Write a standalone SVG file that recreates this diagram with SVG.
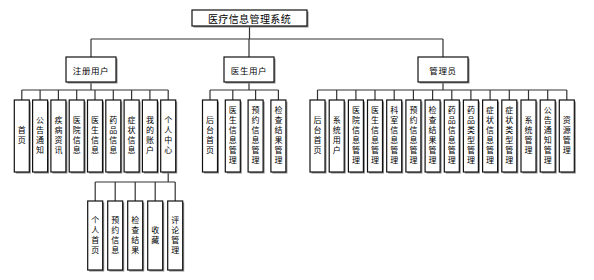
<svg xmlns="http://www.w3.org/2000/svg" width="594" height="280" viewBox="0 0 594 280">
<defs>
<style>
.bg{fill:#ffffff}
.sh{fill:#8a8a8a}
.bx{fill:#ffffff;stroke:#111;stroke-width:1.2}
.ln{stroke:#333;stroke-width:1.2;fill:none}
.t{font-family:"Noto Sans CJK SC","Noto Sans",sans-serif;fill:#000;text-anchor:middle}
.h{font-size:10px;letter-spacing:0.4px;dominant-baseline:central}
.m{font-size:8.5px;letter-spacing:0.6px;dominant-baseline:central}
.v{font-size:8px;writing-mode:vertical-rl;letter-spacing:2px}
</style>
</defs>
<rect class="bg" x="0" y="0" width="594" height="280"/>
<g id="connectors">
<path class="ln" d="M249.5 26V39M91 39H443M91 39V57M249 39V57M443 39V57"/>
<path class="ln" d="M91 82V90M21.8 90H168.2M21.8 90V100M40.1 90V100M58.4 90V100M76.7 90V100M95 90V100M113.3 90V100M131.6 90V100M149.9 90V100M168.2 90V100"/>
<path class="ln" d="M249 82V90M210 90H278.4M210 90V100M232.8 90V100M255.6 90V100M278.4 90V100"/>
<path class="ln" d="M443 82V90M317.5 90H566.8M317.5 90V100M336.7 90V100M355.9 90V100M375 90V100M394.2 90V100M413.4 90V100M432.6 90V100M451.8 90V100M470.9 90V100M490.1 90V100M509.3 90V100M528.5 90V100M547.7 90V100M566.8 90V100"/>
<path class="ln" d="M168.2 172V182M95.2 182H175.2M95.2 182V201M115.2 182V201M135.2 182V201M155.2 182V201M175.2 182V201"/>
</g>
<g id="root"><rect class="sh" x="193.5" y="11.5" width="115" height="16"/><rect class="bx" x="192" y="10" width="115" height="16"/><text class="t h" x="249.5" y="18.5">医疗信息管理系统</text></g>
<g id="n-reg"><rect class="sh" x="67.5" y="58.5" width="50" height="25"/><rect class="bx" x="66" y="57" width="50" height="25"/><text class="t m" x="91" y="69.5">注册用户</text></g>
<g id="n-doc"><rect class="sh" x="225.5" y="58.5" width="50" height="25"/><rect class="bx" x="224" y="57" width="50" height="25"/><text class="t m" x="249" y="69.5">医生用户</text></g>
<g id="n-adm"><rect class="sh" x="419.5" y="58.5" width="50" height="25"/><rect class="bx" x="418" y="57" width="50" height="25"/><text class="t m" x="443" y="69.5">管理员</text></g>

<g id="r1"><rect class="sh" x="15.8" y="101.5" width="15" height="72"/><rect class="bx" x="14.3" y="100" width="15" height="72"/><text class="t v" x="21.8" y="136">首页</text></g>
<g id="r2"><rect class="sh" x="34.1" y="101.5" width="15" height="72"/><rect class="bx" x="32.6" y="100" width="15" height="72"/><text class="t v" x="40.1" y="136">公告通知</text></g>
<g id="r3"><rect class="sh" x="52.4" y="101.5" width="15" height="72"/><rect class="bx" x="50.9" y="100" width="15" height="72"/><text class="t v" x="58.4" y="136">疾病资讯</text></g>
<g id="r4"><rect class="sh" x="70.7" y="101.5" width="15" height="72"/><rect class="bx" x="69.2" y="100" width="15" height="72"/><text class="t v" x="76.7" y="136">医院信息</text></g>
<g id="r5"><rect class="sh" x="89" y="101.5" width="15" height="72"/><rect class="bx" x="87.5" y="100" width="15" height="72"/><text class="t v" x="95" y="136">医生信息</text></g>
<g id="r6"><rect class="sh" x="107.3" y="101.5" width="15" height="72"/><rect class="bx" x="105.8" y="100" width="15" height="72"/><text class="t v" x="113.3" y="136">药品信息</text></g>
<g id="r7"><rect class="sh" x="125.6" y="101.5" width="15" height="72"/><rect class="bx" x="124.1" y="100" width="15" height="72"/><text class="t v" x="131.6" y="136">症状信息</text></g>
<g id="r8"><rect class="sh" x="143.9" y="101.5" width="15" height="72"/><rect class="bx" x="142.4" y="100" width="15" height="72"/><text class="t v" x="149.9" y="136">我的账户</text></g>
<g id="r9"><rect class="sh" x="162.2" y="101.5" width="15" height="72"/><rect class="bx" x="160.7" y="100" width="15" height="72"/><text class="t v" x="168.2" y="136">个人中心</text></g>

<g id="p1"><rect class="sh" x="89.2" y="202.5" width="15" height="69"/><rect class="bx" x="87.7" y="201" width="15" height="69"/><text class="t v" x="95.2" y="235.5">个人首页</text></g>
<g id="p2"><rect class="sh" x="109.2" y="202.5" width="15" height="69"/><rect class="bx" x="107.7" y="201" width="15" height="69"/><text class="t v" x="115.2" y="235.5">预约信息</text></g>
<g id="p3"><rect class="sh" x="129.2" y="202.5" width="15" height="69"/><rect class="bx" x="127.7" y="201" width="15" height="69"/><text class="t v" x="135.2" y="235.5">检查结果</text></g>
<g id="p4"><rect class="sh" x="149.2" y="202.5" width="15" height="69"/><rect class="bx" x="147.7" y="201" width="15" height="69"/><text class="t v" x="155.2" y="235.5">收藏</text></g>
<g id="p5"><rect class="sh" x="169.2" y="202.5" width="15" height="69"/><rect class="bx" x="167.7" y="201" width="15" height="69"/><text class="t v" x="175.2" y="235.5">评论管理</text></g>

<g id="d1"><rect class="sh" x="204" y="101.5" width="15" height="72"/><rect class="bx" x="202.5" y="100" width="15" height="72"/><text class="t v" x="210" y="136">后台首页</text></g>
<g id="d2"><rect class="sh" x="226.8" y="101.5" width="15" height="72"/><rect class="bx" x="225.3" y="100" width="15" height="72"/><text class="t v" x="232.8" y="136">医生信息管理</text></g>
<g id="d3"><rect class="sh" x="249.6" y="101.5" width="15" height="72"/><rect class="bx" x="248.1" y="100" width="15" height="72"/><text class="t v" x="255.6" y="136">预约信息管理</text></g>
<g id="d4"><rect class="sh" x="272.4" y="101.5" width="15" height="72"/><rect class="bx" x="270.9" y="100" width="15" height="72"/><text class="t v" x="278.4" y="136">检查结果管理</text></g>

<g id="a1"><rect class="sh" x="311.5" y="101.5" width="15" height="72"/><rect class="bx" x="310" y="100" width="15" height="72"/><text class="t v" x="317.5" y="136">后台首页</text></g>
<g id="a2"><rect class="sh" x="330.7" y="101.5" width="15" height="72"/><rect class="bx" x="329.2" y="100" width="15" height="72"/><text class="t v" x="336.7" y="136">系统用户</text></g>
<g id="a3"><rect class="sh" x="349.9" y="101.5" width="15" height="72"/><rect class="bx" x="348.4" y="100" width="15" height="72"/><text class="t v" x="355.9" y="136">医院信息管理</text></g>
<g id="a4"><rect class="sh" x="369" y="101.5" width="15" height="72"/><rect class="bx" x="367.5" y="100" width="15" height="72"/><text class="t v" x="375" y="136">医生信息管理</text></g>
<g id="a5"><rect class="sh" x="388.2" y="101.5" width="15" height="72"/><rect class="bx" x="386.7" y="100" width="15" height="72"/><text class="t v" x="394.2" y="136">科室信息管理</text></g>
<g id="a6"><rect class="sh" x="407.4" y="101.5" width="15" height="72"/><rect class="bx" x="405.9" y="100" width="15" height="72"/><text class="t v" x="413.4" y="136">预约信息管理</text></g>
<g id="a7"><rect class="sh" x="426.6" y="101.5" width="15" height="72"/><rect class="bx" x="425.1" y="100" width="15" height="72"/><text class="t v" x="432.6" y="136">检查结果管理</text></g>
<g id="a8"><rect class="sh" x="445.8" y="101.5" width="15" height="72"/><rect class="bx" x="444.3" y="100" width="15" height="72"/><text class="t v" x="451.8" y="136">药品信息管理</text></g>
<g id="a9"><rect class="sh" x="464.9" y="101.5" width="15" height="72"/><rect class="bx" x="463.4" y="100" width="15" height="72"/><text class="t v" x="470.9" y="136">药品类型管理</text></g>
<g id="a10"><rect class="sh" x="484.1" y="101.5" width="15" height="72"/><rect class="bx" x="482.6" y="100" width="15" height="72"/><text class="t v" x="490.1" y="136">症状信息管理</text></g>
<g id="a11"><rect class="sh" x="503.3" y="101.5" width="15" height="72"/><rect class="bx" x="501.8" y="100" width="15" height="72"/><text class="t v" x="509.3" y="136">症状类型管理</text></g>
<g id="a12"><rect class="sh" x="522.5" y="101.5" width="15" height="72"/><rect class="bx" x="521" y="100" width="15" height="72"/><text class="t v" x="528.5" y="136">系统管理</text></g>
<g id="a13"><rect class="sh" x="541.7" y="101.5" width="15" height="72"/><rect class="bx" x="540.2" y="100" width="15" height="72"/><text class="t v" x="547.7" y="136">公告通知管理</text></g>
<g id="a14"><rect class="sh" x="560.8" y="101.5" width="15" height="72"/><rect class="bx" x="559.3" y="100" width="15" height="72"/><text class="t v" x="566.8" y="136">资源管理</text></g>
</svg>
